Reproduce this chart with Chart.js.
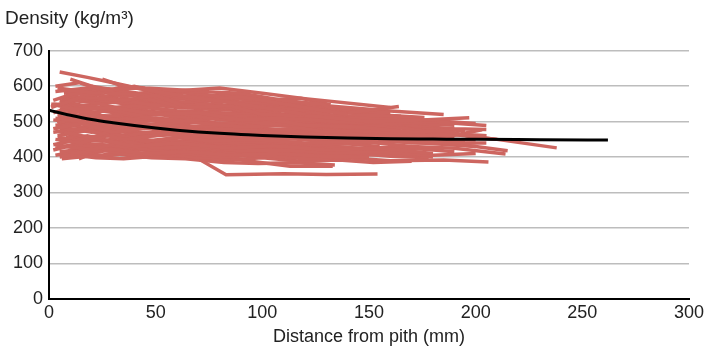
<!DOCTYPE html>
<html>
<head>
<meta charset="utf-8">
<script src="https://cdn.jsdelivr.net/npm/chart.js@4/dist/chart.umd.min.js"></script>
<style>
  html, body { margin: 0; padding: 0; background: #fff; }
  #wrap { width: 708px; height: 348px; }
</style>
</head>
<body>
<div id="wrap"><canvas id="chart"></canvas></div>
<script>
// axis ticks
const xTicks = [0, 50, 100, 150, 200, 250, 300];
const yTicks = [0, 100, 200, 300, 400, 500, 600, 700];

// fitted trend (black)
const fitX = [0, 10, 20, 30, 40, 50, 60, 70, 80, 90, 100, 120, 140, 160, 180, 200, 230, 262];
const fitY = [532, 518, 506, 497, 489, 482, 476, 471, 467, 464, 461, 457, 454, 452, 451, 450, 449, 448];

// individual radial density profiles (red), [distance, density]
const redProfiles = [
  [[5,640],[18,625],[30,610],[45,590],[60,575],[78,560],[95,545],[120,520]],
  [[3,600],[14,610],[25,590],[40,595],[55,585],[80,595],[100,580],[120,565],[160,540]],
  [[8,590],[22,580],[40,600],[55,575],[70,560],[90,570],[110,550],[140,520]],
  [[2,560],[12,580],[20,575],[35,600],[50,590],[70,585],[90,580],[110,560],[128,549],[138,523],[164,543]],
  [[4,545],[15,570],[35,560],[50,575],[65,540],[85,545],[100,520],[125,515],[150,500],[175,505],[197,511]],
  [[10,620],[20,600],[28,580],[45,575],[60,555],[75,560],[90,530]],
  [[1,550],[12,535],[30,540],[50,520],[70,525],[90,505],[110,510],[135,500],[160,495],[180,500],[205,489]],
  [[5,530],[20,545],[40,520],[60,525],[80,505],[100,510],[120,490],[145,485],[170,470],[185,475],[200,455]],
  [[3,510],[15,500],[25,530],[42,515],[60,500],[80,510],[100,495],[125,490],[150,480]],
  [[6,500],[22,515],[45,490],[65,500],[90,485],[110,490],[130,470],[150,475],[175,460],[190,465],[210,450]],
  [[2,480],[15,495],[30,470],[50,485],[70,475],[90,480],[115,460],[135,468],[160,455]],
  [[7,470],[20,455],[40,495],[60,480],[80,470],[100,475],[125,455],[145,460],[165,445],[195,440]],
  [[4,460],[18,475],[35,450],[55,465],[75,445],[95,450],[120,440],[145,445],[170,430],[190,425],[214,409]],
  [[3,450],[15,440],[30,465],[45,445],[60,455],[80,440],[100,445],[125,435],[150,440]],
  [[5,440],[20,455],[40,430],[60,440],[85,425],[105,432],[130,420],[155,425],[180,410]],
  [[8,430],[20,420],[35,445],[50,425],[70,430],[90,418],[110,420],[135,412],[155,415],[180,405],[200,410]],
  [[2,420],[12,435],[25,425],[45,410],[65,415],[85,405],[105,410],[130,402],[150,400]],
  [[10,410],[25,420],[40,405],[60,412],[80,400],[100,405],[120,395],[140,398],[160,390],[185,392],[206,386]],
  [[5,400],[16,410],[30,420],[45,405],[55,410],[70,398],[85,395]],
  [[15,440],[35,430],[50,420],[60,410],[70,395],[83,350],[110,353],[130,351],[154,352]],
  [[6,490],[25,505],[50,510],[75,495],[100,500],[125,490],[145,485],[170,495],[190,490]],
  [[4,520],[18,530],[30,505],[50,520],[70,510],[95,515],[120,500],[140,510],[165,505],[190,495]],
  [[8,575],[25,560],[45,565],[60,545],[75,550],[95,540],[115,535],[140,530],[160,525]],
  [[3,585],[18,595],[35,570],[50,585],[70,580],[85,565],[100,560],[120,550],[140,540],[160,530],[185,520]],
  [[10,560],[30,565],[50,545],[70,550],[95,530],[115,535],[135,515],[155,518],[175,505],[200,495]],
  [[5,535],[20,525],[40,545],[60,530],[85,520],[105,525],[130,505],[155,490],[180,470],[210,450],[238,426]],
  [[2,525],[10,540],[20,510],[35,520],[55,495],[75,500],[100,475],[120,480],[140,460],[160,462],[180,445],[200,430],[215,418]],
  [[7,505],[22,495],[40,480],[60,490],[80,460],[100,468],[125,450],[145,455],[170,440],[205,440]],
  [[4,455],[25,445],[45,470],[65,460],[90,455],[110,460],[135,445],[160,455],[180,450],[203,477]],
  [[6,445],[18,460],[30,440],[45,450],[60,435],[80,442],[100,430],[120,435],[145,425],[165,428],[185,420]],
  [[3,435],[20,420],[40,425],[55,445],[75,440],[95,428],[120,430],[140,422],[165,420]],
  [[9,415],[25,405],[45,430],[65,425],[85,420],[105,412],[130,410],[150,412],[175,405]],
  [[12,405],[22,398],[35,395],[50,402],[70,405],[90,392],[113,374],[133,374]],
  [[20,600],[35,585],[50,560],[65,565],[80,540],[100,535],[120,530]],
  [[25,620],[35,600],[45,595],[60,590],[75,585]],
  [[2,470],[15,480],[30,460],[50,470],[70,462],[90,455],[115,460],[140,450],[165,458],[190,455]],
  [[5,485],[20,470],[35,495],[55,480],[75,490],[95,478],[115,480],[140,472],[160,470],[185,465],[205,460]],
  [[4,495],[16,520],[30,515],[50,505],[70,515],[90,500],[110,495],[135,490],[165,480]],
  [[1,540],[10,560],[20,555],[35,535],[45,540],[60,530],[80,525],[100,520],[115,515]],
  [[6,465],[20,480],[40,455],[60,465],[85,450],[105,455],[130,445],[155,448],[175,440],[200,430]],
  [[3,425],[15,440],[30,415],[45,425],[60,420],[80,412],[95,415],[120,410],[140,405],[160,408],[180,400]],
  [[8,455],[30,460],[50,440],[70,448],[95,435],[115,438],[140,425],[160,410]],
  [[4,515],[20,500],[40,500],[60,505],[85,490],[105,492],[125,480],[145,482],[160,470],[180,470]],
  [[7,545],[25,535],[50,525],[70,530],[90,510],[110,515],[130,495],[150,492],[170,480],[195,475]],
  [[2,505],[20,490],[35,485],[55,495],[80,480],[100,482],[120,465],[145,470],[170,460]],
  [[5,475],[25,485],[45,460],[65,465],[80,445],[100,448],[115,435],[135,440],[155,430]],
  [[10,530],[30,540],[50,550],[70,540],[85,545],[110,540],[130,530],[150,520],[165,515]],
  [[3,490],[30,500],[60,480],[80,485],[100,470],[125,472],[150,465],[175,468],[205,460]],
  [[5,415],[20,425],[40,410],[60,418],[80,410],[100,412],[120,405],[135,400],[150,395]],
  [[14,395],[22,415],[30,430],[45,420],[60,425],[75,415],[90,410],[110,405],[125,400]],
  [[2,550],[15,545],[30,555],[45,550],[60,540],[80,535],[100,538],[120,525],[140,515],[160,510]],
  [[6,565],[20,570],[35,550],[55,555],[75,535],[95,530],[110,520],[125,522],[145,505]],
  [[3,475],[12,460],[25,450],[40,440],[55,450],[70,438],[90,440],[110,428],[130,432],[150,422],[170,425],[190,415]],
  [[8,520],[25,510],[45,530],[65,515],[85,515],[105,500],[125,505],[150,495],[170,488],[190,480],[205,478]],
  [[4,500],[15,485],[30,480],[50,465],[70,470],[90,460],[110,450],[130,455],[150,445],[175,442],[195,445]],
  [[10,445],[20,435],[35,432],[50,415],[65,420],[85,410],[105,415],[125,408],[140,412],[160,402],[178,398]],
  [[2,435],[14,450],[28,445],[45,438],[62,430],[80,432],[100,422],[118,425],[138,418],[158,420],[176,412]],
  [[5,560],[20,540],[40,535],[60,520],[80,515],[100,505],[120,500],[140,492],[160,490],[180,484]],
  [[15,580],[30,570],[45,580],[60,565],[75,570],[90,555],[105,552],[120,545],[135,538]],
  [[9,480],[25,475],[40,485],[60,470],[75,478],[95,465],[115,470],[135,458],[155,462],[175,452],[200,448]],
  [[4,595],[16,585],[28,592],[42,580],[58,588],[72,572],[88,575],[104,562],[118,566],[132,548]],
  [[7,580],[22,590],[38,578],[52,565],[68,572],[84,555],[100,550],[116,542],[134,535],[150,528]],
  [[3,405],[12,415],[24,400],[38,412],[52,405],[68,400],[84,392],[100,398],[118,388],[136,392],[152,385],[170,388]],
  [[6,395],[18,402],[32,408],[48,398],[64,395],[82,385],[98,382],[116,384],[134,378]],
  [[12,570],[26,555],[40,562],[56,548],[72,552],[88,538],[104,540],[122,528],[140,530],[158,518],[176,512]]
];

const redColor = '#cd6660';

const datasets = redProfiles.map(p => ({
  data: p.map(pt => ({ x: pt[0], y: pt[1] })),
  showLine: true,
  borderColor: redColor,
  borderWidth: 3.5,
  pointRadius: 0,
  fill: false,
  order: 2
}));

datasets.push({
  data: fitX.map((x, i) => ({ x: x, y: fitY[i] })),
  showLine: true,
  borderColor: '#000',
  borderWidth: 3,
  pointRadius: 0,
  tension: 0.4,
  cubicInterpolationMode: 'monotone',
  fill: false,
  order: 0
});

const font = { family: "'Liberation Sans', Arial, sans-serif", size: 18, weight: 'normal' };

const ctx = document.querySelector('#chart').getContext('2d');
const chart = new Chart(ctx, {
  type: 'scatter',
  data: { datasets: datasets },
  options: {
    responsive: true,
    maintainAspectRatio: false,
    animation: false,
    layout: {
      padding: { left: 5, right: 19, top: 7, bottom: 0 }
    },
    plugins: {
      legend: { display: false },
      tooltip: { enabled: false },
      title: {
        display: true,
        text: 'Density (kg/m³)',
        align: 'start',
        color: '#222',
        font: { family: font.family, size: 19, weight: 'normal' },
        padding: { top: 0, bottom: 21 }
      }
    },
    scales: {
      x: {
        type: 'linear',
        min: 0,
        max: 300,
        afterBuildTicks: axis => { axis.ticks = xTicks.map(v => ({ value: v })); },
        ticks: { color: '#222', font: font, padding: 3, maxRotation: 0 },
        grid: { display: false, drawTicks: false },
        border: { color: '#000', width: 2 },
        title: {
          display: true,
          text: 'Distance from pith (mm)',
          color: '#222',
          font: font,
          padding: { top: 0, bottom: 0 }
        }
      },
      y: {
        type: 'linear',
        min: 0,
        max: 700,
        afterBuildTicks: axis => { axis.ticks = yTicks.map(v => ({ value: v })); },
        afterFit: axis => { axis.width = 44; },
        ticks: { color: '#222', font: font, padding: 6 },
        grid: { color: '#bdbdbd', lineWidth: 1.5, drawTicks: false },
        border: { color: '#000', width: 2 }
      }
    }
  }
});
</script>
</body>
</html>
